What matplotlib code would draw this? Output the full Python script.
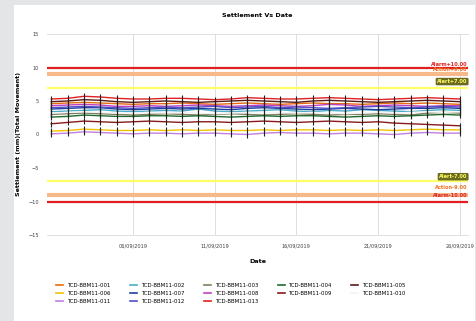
import matplotlib.pyplot as plt
import matplotlib.dates as mdates
from matplotlib.patches import Rectangle
import pandas as pd

DATES = pd.date_range("2019-09-01", "2019-09-26", freq="D")

SERIES_NAMES = [f"TCD-BBM11-{i:03d}" for i in range(1, 14)]
SERIES_COLORS = [
    "#e46c0a", "#4bacc6", "#7f7f5f", "#1e6b2e", "#5a1a1a",
    "#f2c200", "#1f3f9f", "#c040c0", "#8b1a1a", "#f4f4f4",
    "#c080e0", "#5050c8", "#e02020",
]

S001 = [4.6, 4.7, 4.8, 4.7, 4.6, 4.5, 4.6, 4.6, 4.7, 4.6, 4.5, 4.6, 4.7,
        4.6, 4.5, 4.6, 4.7, 4.6, 4.6, 4.5, 4.6, 4.7, 4.6, 4.7, 4.6, 4.5]
S002 = [3.4, 3.5, 3.6, 3.7, 3.5, 3.4, 3.5, 3.6, 3.5, 3.8, 3.5, 3.4, 3.5,
        3.6, 3.7, 3.5, 3.4, 3.6, 3.5, 3.7, 3.6, 3.5, 3.4, 3.6, 3.7, 3.6]
S003 = [3.0, 3.1, 3.2, 3.1, 3.0, 2.9, 3.0, 3.1, 3.0, 2.9, 3.0, 3.1, 3.0,
        2.9, 3.0, 3.1, 3.0, 2.9, 3.0, 3.0, 3.1, 3.0, 2.9, 3.2, 3.3, 3.2]
S004 = [2.6, 2.7, 2.9, 2.8, 2.7, 2.7, 2.8, 2.8, 2.7, 2.8, 2.7, 2.6, 2.7,
        2.8, 2.7, 2.8, 2.8, 2.7, 2.6, 2.7, 2.8, 2.7, 2.8, 2.9, 3.0, 2.9]
S005 = [4.9, 5.0, 5.2, 5.1, 4.9, 4.8, 4.9, 5.0, 4.9, 4.8, 4.9, 5.0, 5.1,
        5.0, 4.9, 4.8, 5.0, 5.1, 5.0, 4.9, 4.8, 4.9, 5.0, 5.1, 5.0, 4.9]
S006 = [0.5, 0.6, 0.8, 0.7, 0.6, 0.6, 0.7, 0.6, 0.7, 0.6, 0.7, 0.6, 0.6,
        0.7, 0.6, 0.7, 0.7, 0.6, 0.7, 0.6, 0.7, 0.6, 0.7, 0.8, 0.7, 0.7]
S007 = [3.8, 3.9, 4.0, 4.0, 3.8, 3.7, 3.8, 3.9, 3.8, 3.9, 3.8, 3.7, 3.9,
        4.0, 3.9, 3.8, 3.7, 3.8, 3.9, 3.8, 3.7, 3.8, 3.9, 3.9, 4.0, 3.9]
S008 = [4.3, 4.4, 4.5, 4.4, 4.2, 4.2, 4.3, 4.2, 4.3, 4.4, 4.3, 4.2, 4.3,
        4.4, 4.3, 4.2, 4.3, 4.5, 4.4, 4.2, 4.3, 4.4, 4.3, 4.2, 4.3, 4.3]
S009 = [1.6, 1.8, 2.0, 1.9, 1.8, 1.9, 2.0, 1.9, 1.8, 1.9, 1.9, 1.8, 1.9,
        2.0, 1.9, 1.8, 1.9, 2.0, 1.9, 1.8, 1.9, 1.7, 1.6, 1.5, 1.4, 1.3]
S010 = [3.2, 3.3, 3.4, 3.3, 3.2, 3.2, 3.3, 3.2, 3.3, 3.2, 3.1, 3.2, 3.3,
        3.2, 3.3, 3.2, 3.3, 3.2, 3.1, 3.2, 3.3, 3.2, 3.3, 3.4, 3.3, 3.4]
S011 = [0.1, 0.2, 0.4, 0.3, 0.2, 0.1, 0.2, 0.2, 0.1, 0.2, 0.2, 0.1, 0.0,
        0.2, 0.3, 0.2, 0.2, 0.1, 0.2, 0.2, 0.1, 0.0, 0.2, 0.3, 0.2, 0.2]
S012 = [4.0, 4.1, 4.2, 4.1, 4.0, 3.9, 4.0, 4.1, 4.0, 4.1, 4.2, 4.0, 4.1,
        4.2, 4.0, 4.1, 4.0, 3.9, 4.0, 4.1, 4.2, 4.1, 4.0, 4.1, 4.2, 4.1]
S013 = [5.3, 5.4, 5.7, 5.6, 5.4, 5.3, 5.3, 5.4, 5.4, 5.3, 5.2, 5.3, 5.5,
        5.4, 5.3, 5.3, 5.4, 5.5, 5.4, 5.3, 5.2, 5.3, 5.4, 5.5, 5.4, 5.3]
SERIES = [S001, S002, S003, S004, S005, S006, S007, S008, S009, S010,
          S011, S012, S013]

LIMIT_VALUES = [10, 9, 7, -7, -9, -10]
LIMIT_LABELS = ["Alarm+10.00", "Action+9.00", "Alert+7.00",
                "Alert-7.00", "Action-9.00", "Alarm-10.00"]
LIMIT_COLORS = ["#e02020", "#f7b88a", "#ffff66", "#ffff66", "#f7b88a", "#e02020"]
LIMIT_TEXT_COLORS = ["#e02020", "#f07020", "#ffff66",
                     "#ffff66", "#f07020", "#e02020"]
LIMIT_WIDTHS = [1.6, 3.0, 1.6, 1.6, 3.0, 1.6]
# label position relative to its line, in data units
LIMIT_LABEL_OFFSETS = [0.5, 0.65, 0.9, 0.7, 1.1, 0.9]

X_TICKS = pd.to_datetime(["2019-09-06", "2019-09-11", "2019-09-16",
                          "2019-09-21", "2019-09-26"])

fig = plt.figure(figsize=(4.77, 3.21), dpi=100)
fig.patch.set_facecolor("#e4e5e7")
fig.add_artist(Rectangle((14 / 477, 0), 461 / 477, 316 / 321,
                         transform=fig.transFigure, facecolor="white",
                         edgecolor="none", zorder=0))

ax = fig.add_axes([47 / 477, 1 - 235 / 321, 421 / 477, 201 / 321])
ax.set_facecolor("white")

for val, color, lw in zip(LIMIT_VALUES, LIMIT_COLORS, LIMIT_WIDTHS):
    ax.axhline(val, color=color, linewidth=lw, zorder=2)

for name, color, vals in zip(SERIES_NAMES, SERIES_COLORS, SERIES):
    ax.plot(DATES, vals, color=color, linewidth=1.0, marker="|",
            markersize=5, markeredgecolor="#202020", markeredgewidth=0.8,
            label=name, zorder=3)

# limit labels at the right end
txt_x = pd.Timestamp("2019-09-26 11:00")
for val, lab, tcol, off in zip(LIMIT_VALUES, LIMIT_LABELS,
                               LIMIT_TEXT_COLORS, LIMIT_LABEL_OFFSETS):
    kw = dict(fontsize=3.6, fontweight="bold", color=tcol, ha="right",
              va="center", zorder=5)
    if "Alert" in lab:
        kw["bbox"] = dict(boxstyle="round,pad=0.25", fc="#6b6b20", ec="none")
    ax.text(txt_x, val + off, lab, **kw)

ax.set_ylim(-15, 15)
ax.set_yticks([15, 10, 5, 0, -5, -10, -15])
ax.set_xlim(pd.Timestamp("2019-08-31 17:45"), pd.Timestamp("2019-09-26 12:00"))
ax.set_xticks(X_TICKS)
ax.xaxis.set_major_formatter(mdates.DateFormatter("%d/%m/%Y"))
ax.tick_params(labelsize=3.6, colors="#404040", length=0, pad=6)

ax.grid(axis="x", color="#d9d9d9", linewidth=0.6)
ax.set_axisbelow(True)
for side in ["left", "right"]:
    ax.spines[side].set_visible(False)
for side in ["top", "bottom"]:
    ax.spines[side].set_color("#d9d9d9")
    ax.spines[side].set_linewidth(0.6)

ax.set_title("Settlement Vs Date", fontsize=4.6, fontweight="bold", pad=12)
ax.set_xlabel("Date", fontsize=4.6, fontweight="bold", labelpad=8)
ax.set_ylabel("Settlement (mm)(Total Movement)", fontsize=4.6,
              fontweight="bold", labelpad=5)

# legend is read row by row in the reference; matplotlib fills columns
handles, labels = ax.get_legend_handles_labels()
order = [0, 5, 10, 1, 6, 11, 2, 7, 12, 3, 8, 4, 9]
handles = [plt.Line2D([], [], color=handles[i].get_color(), linewidth=1.2)
           for i in order]
labels = [labels[i] for i in order]
fig.legend(handles, labels, ncol=5, fontsize=3.9, frameon=False,
           loc="upper left", bbox_to_anchor=(54 / 477, 1 - 281 / 321),
           handlelength=1.3, handletextpad=0.7, columnspacing=3.6,
           labelspacing=0.55, borderaxespad=0)

fig.savefig("out.png", dpi=100, facecolor=fig.get_facecolor())
